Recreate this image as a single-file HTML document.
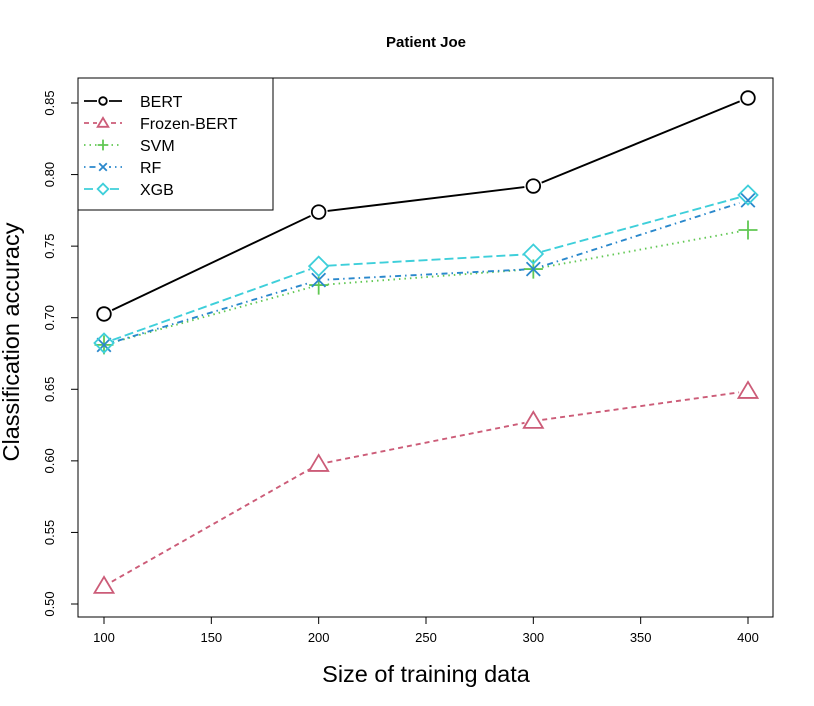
<!DOCTYPE html>
<html><head><meta charset="utf-8"><style>body{margin:0;background:#fff}svg{display:block;font-family:"Liberation Sans",Arial,sans-serif}</style></head>
<body>
<svg id="c" width="814" height="706" xmlns="http://www.w3.org/2000/svg"></svg>
<script>
const xs = [100, 200, 300, 400];
const bert = [0.7026, 0.7738, 0.792, 0.8535];
const frozen = [0.5125, 0.5977, 0.6278, 0.6487];
const svm = [0.681, 0.7228, 0.734, 0.7613];
const rf = [0.681, 0.7263, 0.734, 0.782];
const xgb = [0.6823, 0.736, 0.7445, 0.7857];
const xTicks = [100, 150, 200, 250, 300, 350, 400];
const yTicks = [0.50, 0.55, 0.60, 0.65, 0.70, 0.75, 0.80, 0.85];
const seriesNames = ["BERT", "Frozen-BERT", "SVM", "RF", "XGB"];

const NS = "http://www.w3.org/2000/svg";
const svg = document.getElementById('c');
const X = v => 104 + (v - 100) * 644 / 300;
const Y = v => 604 - (v - 0.5) * 501 / 0.35;
function el(t, a, p) { const e = document.createElementNS(NS, t); for (const k in a) e.setAttribute(k, a[k]); (p || svg).appendChild(e); return e; }

const title = el('text', {x: 426, y: 47, 'text-anchor': 'middle', 'font-size': 15, 'font-weight': 'bold'});
title.textContent = 'Patient Joe';



const box = el('rect', {x: 78, y: 78, width: 695, height: 539, fill: 'none', stroke: '#000'});



const xa = el('g', {});


el('line', {x1: X(100), x2: X(400), y1: 617, y2: 617, stroke: '#000'}, xa);
xTicks.forEach(t => {
  el('line', {x1: X(t), x2: X(t), y1: 617, y2: 624, stroke: '#000'}, xa);
  const tx = el('text', {x: X(t), y: 642, 'text-anchor': 'middle', 'font-size': 13}, xa);
  tx.textContent = t;
  
  
});
const ya = el('g', {});


el('line', {x1: 78, x2: 78, y1: Y(0.5), y2: Y(0.85), stroke: '#000'}, ya);
yTicks.forEach(t => {
  el('line', {x1: 71, x2: 78, y1: Y(t), y2: Y(t), stroke: '#000'}, ya);
  const tx = el('text', {x: 0, y: 0, 'text-anchor': 'middle', 'font-size': 13, transform: `translate(54,${Y(t)}) rotate(-90)`}, ya);
  tx.textContent = t.toFixed(2);
  
  
});
const xt = el('text', {x: 426, y: 682, 'text-anchor': 'middle', 'font-size': 23.5});
xt.textContent = 'Size of training data';


const yt = el('text', {x: 0, y: 0, 'text-anchor': 'middle', 'font-size': 23.5, transform: 'translate(19,342) rotate(-90)'});
yt.textContent = 'Classification accuracy';



const colors = ['#000000', '#CC5C78', '#61C853', '#2A88CC', '#3ECFDA'];
const dashes = ['', '5 4', '1.5 4', '1.5 4 6 4', '9 4'];
const data = [bert, frozen, svm, rf, xgb];

function marker(i, x, y, s, g) {
  const c = colors[i], a = {fill: 'none', stroke: c, 'stroke-width': 1.8};
  if (i === 0) el('circle', Object.assign({cx: x, cy: y, r: s}, a), g);
  else if (i === 1) el('polygon', Object.assign({points: `${x},${y - s * 1.35} ${x - s * 1.4},${y + s * 1.0} ${x + s * 1.4},${y + s * 1.0}`}, a), g);
  else if (i === 2) el('path', Object.assign({d: `M${x - s * 1.4},${y}H${x + s * 1.4}M${x},${y - s * 1.4}V${y + s * 1.4}`}, a), g);
  else if (i === 3) el('path', Object.assign({d: `M${x - s},${y - s}L${x + s},${y + s}M${x - s},${y + s}L${x + s},${y - s}`}, a), g);
  else el('polygon', Object.assign({points: `${x},${y - s * 1.4} ${x + s * 1.4},${y} ${x},${y + s * 1.4} ${x - s * 1.4},${y}`}, a), g);
}

data.forEach((d, i) => {
  const g = el('g', {});
  
  
  const pts = xs.map((x, j) => [X(x), Y(d[j])]);
  for (let j = 0; j < pts.length - 1; j++) {
    const [x1, y1] = pts[j], [x2, y2] = pts[j + 1];
    const L = Math.hypot(x2 - x1, y2 - y1), ux = (x2 - x1) / L, uy = (y2 - y1) / L, g2 = 9;
    el('line', {x1: x1 + ux * g2, y1: y1 + uy * g2, x2: x2 - ux * g2, y2: y2 - uy * g2, stroke: colors[i], 'stroke-width': 1.9, 'stroke-dasharray': dashes[i]}, g);
  }
  pts.forEach(p => marker(i, p[0], p[1], 6.8, g));
});

const lg = el('g', {});


el('rect', {x: 78, y: 78, width: 195, height: 132, fill: '#fff', stroke: '#000'}, lg);
seriesNames.forEach((n, i) => {
  const y = 101 + i * 22;
  const e = el('g', {}, lg);
  
  
  el('line', {x1: 84, x2: 122, y1: y, y2: y, stroke: colors[i], 'stroke-width': 1.8, 'stroke-dasharray': dashes[i]}, e);
  el('rect', {x: 97, y: y - 6, width: 12, height: 12, fill: '#fff'}, e);
  marker(i, 103, y, 3.8, e);
  const t = el('text', {x: 140, y: y + 6, 'font-size': 16}, e);
  t.textContent = n;
});
</script>
</body></html>
